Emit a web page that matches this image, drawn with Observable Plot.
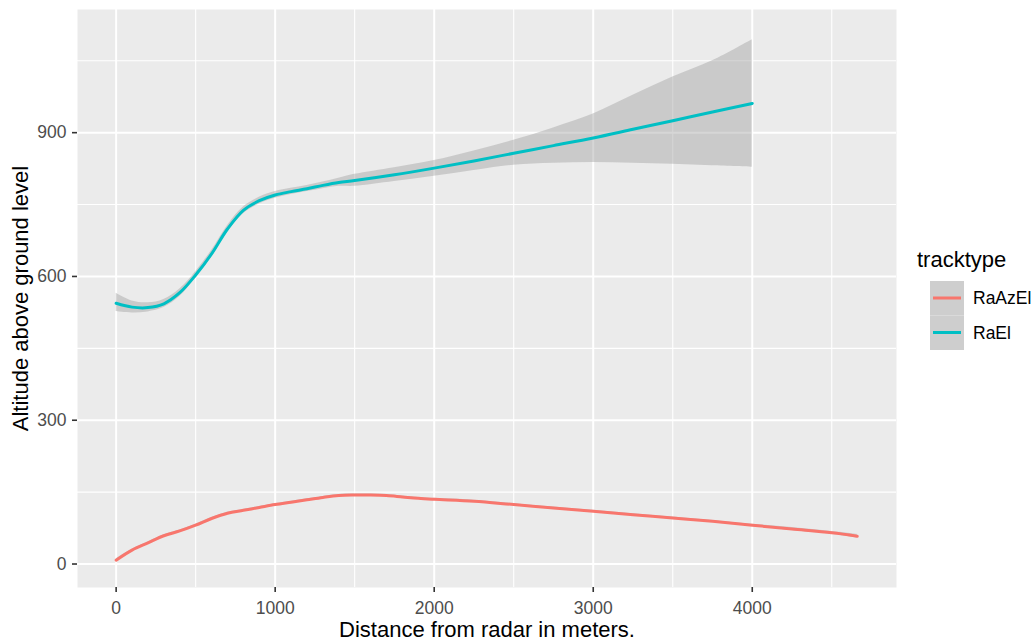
<!DOCTYPE html>
<html>
<head>
<meta charset="utf-8">
<script src="https://cdn.jsdelivr.net/npm/d3@7"></script>
<script src="https://cdn.jsdelivr.net/npm/@observablehq/plot@0.6"></script>
<style>
  html, body { margin: 0; padding: 0; background: white; }
</style>
</head>
<body>
<div id="chart"></div>
<script>
// Smoothed altitude profiles by track type (loess fit with standard-error band)
const trackNames = ["RaAzEl", "RaEl"];
const trackColors = ["#F8766D", "#00BFC4"];

const raelDist = [0, 100, 200, 300, 400, 500, 600, 700, 800, 900, 1000, 1100, 1200, 1300, 1400, 1500,
                  1750, 2000, 2250, 2500, 2750, 3000, 3250, 3500, 3750, 4000];
const raelAlt  = [544, 536, 535, 543, 566, 603, 647, 699, 738, 758, 770, 777, 783, 790, 796, 800,
                  812, 826, 841, 857, 873, 889, 907, 925, 943, 961];
const raelLo   = [527, 524, 526, 535, 558, 596, 640, 692, 731, 751, 763, 771, 777, 783, 788, 788,
                  798, 809, 821, 832, 836, 838, 836, 834, 831, 828];
const raelHi   = [565, 549, 545, 552, 574, 610, 654, 706, 745, 765, 777, 784, 790, 797, 805, 813,
                  827, 842, 862, 884, 910, 939, 978, 1016, 1050, 1094];

const razDist = [0, 100, 200, 300, 400, 500, 600, 700, 800, 900, 1000, 1100, 1200, 1300, 1400, 1500,
                 1600, 1700, 1800, 1900, 2000, 2250, 2500, 2750, 3000, 3250, 3500, 3750, 4000, 4250, 4500, 4660];
const razAlt  = [8, 29, 44, 59, 69, 81, 95, 106, 112, 118, 124, 129, 134, 139, 143, 144,
                 144, 143, 140, 137, 135, 131, 124, 117, 110, 103, 96, 89, 81, 73, 65, 58];
const razSe   = [3, 2, 2, 2, 2, 2, 2, 2, 2, 2, 2, 2, 2, 2, 2, 2,
                 2, 2, 2, 2, 2, 2, 2, 2, 2, 2, 2, 2, 2, 3, 3, 4];

const xTicks = [0, 1000, 2000, 3000, 4000];
const xMinor = [500, 1500, 2500, 3500, 4500];
const yTicks = [0, 300, 600, 900];
const yMinor = [150, 450, 750, 1050];

const xTitle = "Distance from radar in meters.";
const yTitle = "Altitude above ground level";
const legendTitle = "tracktype";

const rows = [
  ...razDist.map((d, i) => ({track: "RaAzEl", dist: d, alt: razAlt[i], lo: razAlt[i] - razSe[i], hi: razAlt[i] + razSe[i]})),
  ...raelDist.map((d, i) => ({track: "RaEl", dist: d, alt: raelAlt[i], lo: raelLo[i], hi: raelHi[i]}))
];

const font = "'Liberation Sans', Arial, sans-serif";

const chart = Plot.plot({
  width: 1036,
  height: 641,
  marginLeft: 77,
  marginRight: 140,
  marginTop: 9,
  marginBottom: 54,
  x: {domain: [-243, 4907]},
  y: {domain: [-49, 1157]},
  color: {domain: trackNames, range: trackColors},
  style: {fontFamily: font, background: "white", color: "black"},
  marks: [
    Plot.frame({fill: "#EBEBEB", stroke: "none"}),
    Plot.gridX(xMinor, {stroke: "white", strokeOpacity: 1, strokeWidth: 1.1}),
    Plot.gridY(yMinor, {stroke: "white", strokeOpacity: 1, strokeWidth: 1.1}),
    Plot.gridX(xTicks, {stroke: "white", strokeOpacity: 1, strokeWidth: 2}),
    Plot.gridY(yTicks, {stroke: "white", strokeOpacity: 1, strokeWidth: 2}),
    Plot.areaY(rows, {x: "dist", y1: "lo", y2: "hi", z: "track", fill: "#999999", fillOpacity: 0.4, curve: "catmull-rom"}),
    Plot.line(rows, {x: "dist", y: "alt", z: "track", stroke: "track", strokeWidth: 3, curve: "catmull-rom"}),
    Plot.axisX({ticks: xTicks, tickFormat: "d", tickSize: 5, tickPadding: 9, fontSize: 17.5,
                stroke: "#333333", strokeWidth: 1.6, fill: "#4D4D4D", label: null}),
    Plot.axisY({ticks: yTicks, tickFormat: "d", tickSize: 5, tickPadding: 6, fontSize: 17.5,
                stroke: "#333333", strokeWidth: 1.6, fill: "#4D4D4D", label: null}),
    Plot.text([xTitle], {text: d => d, frameAnchor: "bottom", textAnchor: "middle", lineAnchor: "bottom", dy: 49, fontSize: 22, fill: "black"}),
    Plot.text([yTitle], {text: d => d, frameAnchor: "left", textAnchor: "middle", lineAnchor: "middle", rotate: -90, dx: -57, fontSize: 22, fill: "black"})
  ]
});

// Legend on the right-hand side
const color = chart.scale("color");
const svg = d3.select(chart);
const lg = svg.append("g").attr("font-family", font).attr("text-anchor", "start");
lg.append("text").attr("x", 917).attr("y", 267).attr("font-size", 22).attr("fill", "black").text(legendTitle);
trackNames.forEach((name, i) => {
  const y0 = 281 + i * 34.5;
  lg.append("rect").attr("x", 930).attr("y", y0).attr("width", 34).attr("height", 34.5).attr("fill", "#F2F2F2");
  lg.append("rect").attr("x", 930).attr("y", y0).attr("width", 34).attr("height", 34.5).attr("fill", "#999999").attr("fill-opacity", 0.4);
  lg.append("line").attr("x1", 933).attr("x2", 961).attr("y1", y0 + 17).attr("y2", y0 + 17)
    .attr("stroke", color.apply(name)).attr("stroke-width", 3);
  lg.append("text").attr("x", 973).attr("y", y0 + 17).attr("dy", "0.35em").attr("font-size", 17.5)
    .attr("fill", "black").text(name);
});

document.getElementById("chart").append(chart);
</script>
</body>
</html>
